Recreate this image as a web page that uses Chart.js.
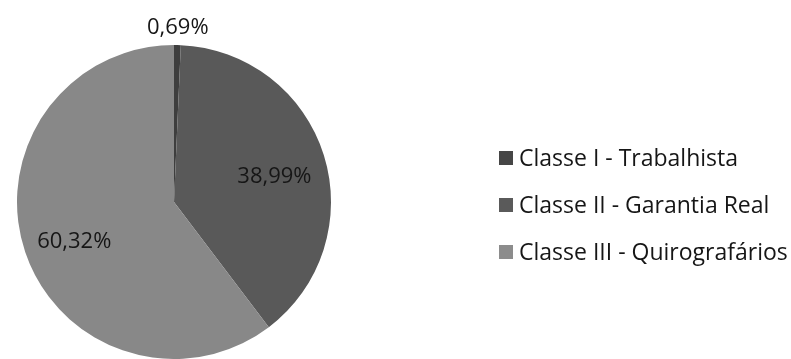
<!DOCTYPE html>
<html>
<head>
<meta charset="utf-8">
<script src="https://cdn.jsdelivr.net/npm/chart.js@4/dist/chart.umd.min.js"></script>
<style>
  html, body { margin: 0; padding: 0; background: #fff; }
  #wrap { width: 791px; height: 359px; }
</style>
</head>
<body>
<div id="wrap"><canvas id="myChart" width="791" height="359"></canvas></div>
<script>
const classes = ['Classe I - Trabalhista', 'Classe II - Garantia Real', 'Classe III - Quirografários']
const percentuais = [0.69, 38.99, 60.32]
const cores = ['#3e3e3e', '#595959', '#888888']
const coresLegenda = ['#464646', '#5a5a5a', '#8c8c8c']

const fonte = '"Open Sans", Lato, sans-serif'

function formatar(v) {
    return v.toFixed(2).replace('.', ',') + '%'
}

// rótulos das fatias e legenda desenhados direto no canvas
const rotulos = {
    id: 'rotulos',
    afterDraw(chart) {
        const ctx = chart.ctx
        const arcs = chart.getDatasetMeta(0).data
        ctx.save()
        ctx.font = '22px ' + fonte
        ctx.fillStyle = '#161616'
        ctx.textAlign = 'center'
        ctx.textBaseline = 'middle'
        arcs.forEach((arc, i) => {
            const meio = (arc.startAngle + arc.endAngle) / 2
            let r = arc.outerRadius * 0.67
            if (percentuais[i] < 5) r = arc.outerRadius + 17
            const x = arc.x + Math.cos(meio) * r
            let y = arc.y + Math.sin(meio) * r
            if (percentuais[i] >= 5) y += 6
            ctx.fillText(formatar(percentuais[i]), x, y)
        })

        // legenda
        ctx.font = '23px ' + fonte
        ctx.textAlign = 'left'
        for (let i = 0; i < classes.length; i++) {
            const y = 158 + i * 47
            ctx.fillStyle = coresLegenda[i]
            ctx.fillRect(499, y - 7, 14, 14)
            ctx.fillStyle = '#161616'
            ctx.fillText(classes[i], 519, y + 1)
        }
        ctx.restore()
    }
}

const ctx = document.getElementById('myChart').getContext('2d')
const myChart = new Chart(ctx, {
    type: 'pie',
    data: {
        labels: classes,
        datasets: [{
            data: percentuais,
            backgroundColor: cores,
            borderWidth: 0
        }]
    },
    options: {
        responsive: false,
        animation: false,
        layout: {
            padding: { top: 45, bottom: 0, left: 17, right: 460 }
        },
        plugins: {
            legend: { display: false },
            tooltip: { enabled: false }
        }
    },
    plugins: [rotulos]
})
</script>
</body>
</html>
